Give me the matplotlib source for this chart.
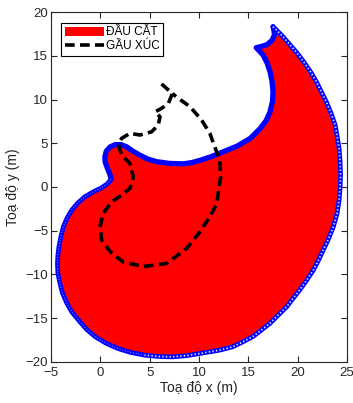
import matplotlib
matplotlib.use("Agg")
import matplotlib.pyplot as plt
import numpy as np

plt.rcParams['font.family'] = ['Liberation Sans', 'DejaVu Sans']
plt.rcParams['lines.scale_dashes'] = False

# boundary of the cutter swept area, outer part: hook tip -> right edge -> bottom -> neck
outer_x = [17.5, 18.0, 18.6, 19.2, 19.9, 20.6, 21.3, 21.9, 22.4, 22.9, 23.4, 23.8, 24.0,
           24.2, 24.3, 24.35, 24.3, 24.2, 24.0, 23.6, 23.1, 22.6, 22.1, 21.6, 20.9, 20.2,
           19.5, 18.9, 18.0, 17.2, 16.3, 15.5, 14.5, 13.4, 12.0, 10.4, 8.8, 7.3, 5.9, 4.5,
           3.1, 1.8, 0.6, -0.5, -1.4, -2.2, -2.9, -3.4, -3.85, -4.1, -4.3, -4.35, -4.3,
           -4.2, -4.0, -3.75, -3.35, -2.9, -2.3, -1.55, -0.7, 0.1, 0.7, 1.1]
outer_y = [18.35, 17.8, 17.1, 16.3, 15.4, 14.35, 13.2, 12.05, 10.9, 9.76, 8.4, 7.1, 5.8,
           4.4, 2.9, 1.4, 0.0, -1.5, -3.0, -4.6, -6.0, -7.2, -8.4, -9.5, -10.7, -11.8,
           -12.8, -13.7, -14.7, -15.6, -16.4, -17.1, -17.7, -18.3, -18.7, -19.0, -19.3,
           -19.45, -19.4, -19.25, -18.95, -18.5, -17.9, -17.15, -16.3, -15.25, -14.3,
           -13.3, -12.1, -11.0, -9.9, -8.75, -7.8, -6.85, -5.7, -4.55, -3.5, -2.65, -1.85,
           -1.1, -0.55, -0.1, 0.35, 0.9]
# inner part: neck -> lobe -> bay -> hook
inner_x = [1.1, 0.95, 0.7, 0.5, 0.45, 0.6, 1.0, 1.5, 2.1, 2.67, 3.3, 4.0, 4.8, 5.7, 7.0,
           8.4, 9.3, 10.1, 11.3, 12.46, 13.9, 15.2, 16.2, 16.8, 17.2, 17.45, 17.5, 17.4,
           17.2, 16.9, 16.5, 16.1, 15.8, 16.35, 16.9, 17.4, 17.65, 17.6, 17.5]
inner_y = [0.9, 1.5, 2.2, 2.8, 3.4, 4.1, 4.6, 4.85, 4.85, 4.6, 4.1, 3.65, 3.2, 2.9, 2.7,
           2.65, 2.8, 3.05, 3.5, 4.03, 4.7, 5.57, 6.7, 7.6, 8.6, 9.8, 10.9, 12.1,
           13.2, 14.2, 15.1, 15.6, 15.95, 16.1, 16.3, 16.8, 17.4, 17.9, 18.35]

# bucket path
bucket_x = [6.2, 7.3, 6.9, 6.2, 5.55, 6.05, 5.87, 5.2, 4.02, 3.0, 2.16, 1.82, 2.0, 2.16,
            3.0, 3.34, 3.0, 2.16, 1.15, 0.3, -0.04, 0.14, 1.0, 2.33, 4.36, 6.72, 8.75,
            10.1, 11.1, 11.8, 12.2, 12.1, 11.6, 11.1, 10.27, 9.08, 7.73, 7.3]
bucket_y = [11.8, 10.7, 9.58, 9.0, 8.6, 8.04, 7.1, 6.32, 5.95, 6.14, 5.57, 5.0, 4.2, 3.65,
            2.7, 1.17, -0.16, -0.93, -1.7, -3.0, -4.6, -6.1, -7.4, -8.6, -9.1, -8.75, -7.03,
            -5.13, -3.4, -1.9, 1.2, 3.08, 4.6, 6.14, 7.66, 9.2, 10.3, 10.7]

fig = plt.figure(figsize=(3.53, 4.03), dpi=100)
ax = fig.add_axes([0.1445, 0.1025, 0.8385, 0.867])

shape_x = outer_x + inner_x[1:]
shape_y = outer_y + inner_y[1:]
ax.fill(shape_x, shape_y, color='#ff0000', lw=0, label='ĐẦU CẮT', zorder=1)

# marker chain along the boundary
ax.plot(outer_x, outer_y, color='#0000ff', lw=3.4, solid_joinstyle='round',
        solid_capstyle='round', zorder=2)
ax.plot(outer_x[:40], outer_y[:40], color='white', lw=1.3, ls=(0, (1.0, 1.6)),
        zorder=3, alpha=0.85)
ax.plot(outer_x[39:], outer_y[39:], color='white', lw=0.8, ls=(0, (0.6, 1.4)),
        zorder=3, alpha=0.6)
ax.plot(inner_x, inner_y, color='#0000ff', lw=3.8, solid_joinstyle='round',
        solid_capstyle='round', zorder=2)

ax.plot(bucket_x, bucket_y, color='black', lw=2.6, ls=(0, (7, 3.8)), label='GẦU XÚC', zorder=4)

ax.set_xlim(-5, 25)
ax.set_ylim(-20, 20)
ax.set_xticks([-5, 0, 5, 10, 15, 20, 25])
ax.set_yticks([-20, -15, -10, -5, 0, 5, 10, 15, 20])
ax.tick_params(direction='in', top=True, right=True, labelsize=9.5, colors='#262626',
               length=4, width=0.8)
ax.tick_params(axis='x', pad=3.5)
ax.tick_params(axis='y', pad=2)
for s in ax.spines.values():
    s.set_color('#262626')
    s.set_linewidth(0.8)
ax.set_xlabel('Toạ độ x (m)', fontsize=10, color='#262626', labelpad=2)
ax.set_ylabel('Toạ độ y (m)', fontsize=10, color='#262626', labelpad=4)

leg = ax.legend(loc='upper left', bbox_to_anchor=(0.034, 0.97), borderaxespad=0,
                fancybox=False, edgecolor='black', framealpha=1, fontsize=8.5,
                handlelength=3.3, handleheight=0.8, handletextpad=0.2, borderpad=0.3,
                labelspacing=0.15)
leg.get_frame().set_linewidth(0.8)

fig.savefig('out.png', dpi=100)
